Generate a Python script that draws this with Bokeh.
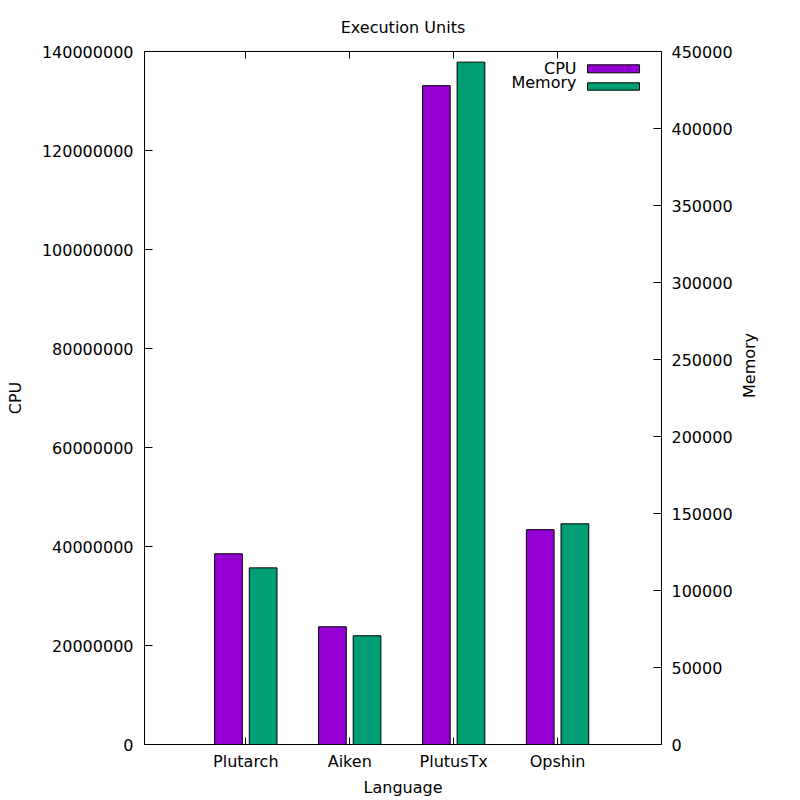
import numpy as np
from bokeh.plotting import figure
from bokeh.models import (Range1d, LinearAxis, FixedTicker,
                          BasicTickFormatter, Label, BoxAnnotation)
from bokeh.embed import file_html
from bokeh.resources import INLINE

# ---- data ----
languages = ["Plutarch", "Aiken", "PlutusTx", "Opshin"]
cpu = [38_530_000, 23_780_000, 133_100_000, 43_400_000]
memory = [114_700, 70_600, 443_100, 143_300]
cpu_ticks = list(range(0, 140_000_001, 20_000_000))
mem_ticks = list(range(0, 450_001, 50_000))

CPU_COLOR = "#9400D3"
MEM_COLOR = "#009E73"
FONT = "DejaVu Sans"
FS = "16px"

idx = np.arange(len(languages))

p = figure(frame_width=517, frame_height=693, output_backend="svg", toolbar_location=None,
           x_range=Range1d(-0.975, 4.0), y_range=Range1d(0, 140_000_000),
           min_border_left=144, min_border_right=131, min_border_top=51,
           min_border_bottom=48, title="Execution Units")
p.extra_y_ranges = {"mem": Range1d(0, 450_000)}

p.title.align = "center"
p.title.text_font = FONT
p.title.text_font_size = FS
p.title.text_font_style = "normal"
p.title.text_color = "black"
p.title.standoff = 30

p.grid.visible = False
p.outline_line_color = "black"
p.outline_line_width = 1
p.background_fill_color = "white"
p.border_fill_color = "white"

bw = 0.8 / 3
p.vbar(x=idx - 1/6, top=cpu, width=bw, fill_color=CPU_COLOR, line_color="black", line_width=1)
p.vbar(x=idx + 1/6, top=memory, width=bw, fill_color=MEM_COLOR, line_color="black",
       line_width=1, y_range_name="mem")

def style(ax):
    ax.major_label_text_font = FONT
    ax.major_label_text_font_size = FS
    ax.major_label_text_color = "black"
    ax.axis_label_text_font = FONT
    ax.axis_label_text_font_size = FS
    ax.axis_label_text_font_style = "normal"
    ax.axis_label_text_color = "black"
    ax.major_tick_in = 8
    ax.major_tick_out = 0
    ax.minor_tick_in = 0
    ax.minor_tick_out = 0
    ax.major_tick_line_color = "black"
    ax.major_tick_line_width = 1
    ax.axis_line_color = None

# bottom x axis
xa = p.xaxis[0]
style(xa)
xa.ticker = FixedTicker(ticks=list(idx))
xa.major_label_overrides = {int(i): n for i, n in zip(idx, languages)}
xa.axis_label = "Language"
xa.major_label_standoff = 7
xa.axis_label_standoff = 4
xa.major_tick_in = 7

# top mirror ticks
ta = LinearAxis(ticker=FixedTicker(ticks=list(idx)))
style(ta)
ta.major_label_text_font_size = "1px"
ta.major_label_text_alpha = 0
ta.major_label_standoff = 0
ta.major_tick_in = 7
p.add_layout(ta, "above")

# left CPU axis
ya = p.yaxis[0]
style(ya)
ya.ticker = FixedTicker(ticks=cpu_ticks)
ya.formatter = BasicTickFormatter(use_scientific=False)
ya.axis_label = "CPU"
ya.major_label_standoff = 11
ya.axis_label_standoff = 14

# right Memory axis, label reading bottom-to-top
ra = LinearAxis(y_range_name="mem", ticker=FixedTicker(ticks=mem_ticks),
                formatter=BasicTickFormatter(use_scientific=False))
style(ra)
ra.major_label_standoff = 10
ra.axis_label = "Memory"
ra.axis_label_standoff = 14
ra.axis_label_orientation = np.pi / 2
p.add_layout(ra, "right")

# legend (gnuplot style: text left, swatch right)
for txt, ty, col, top, bot in [("CPU", 676.3, CPU_COLOR, 679.7, 671.7),
                               ("Memory", 662.0, MEM_COLOR, 661.7, 654.3)]:
    p.add_layout(Label(x=432, y=ty, x_units="screen", y_units="screen", text=txt,
                       text_align="right", text_baseline="middle", text_font=FONT,
                       text_font_size=FS, text_color="black"))
    p.add_layout(BoxAnnotation(left=443, right=495, top=top, bottom=bot,
                               left_units="screen", right_units="screen",
                               top_units="screen", bottom_units="screen",
                               fill_color=col, fill_alpha=1, line_color="black",
                               line_alpha=1, line_width=1))

open("out.html", "w").write(file_html(p, INLINE))
